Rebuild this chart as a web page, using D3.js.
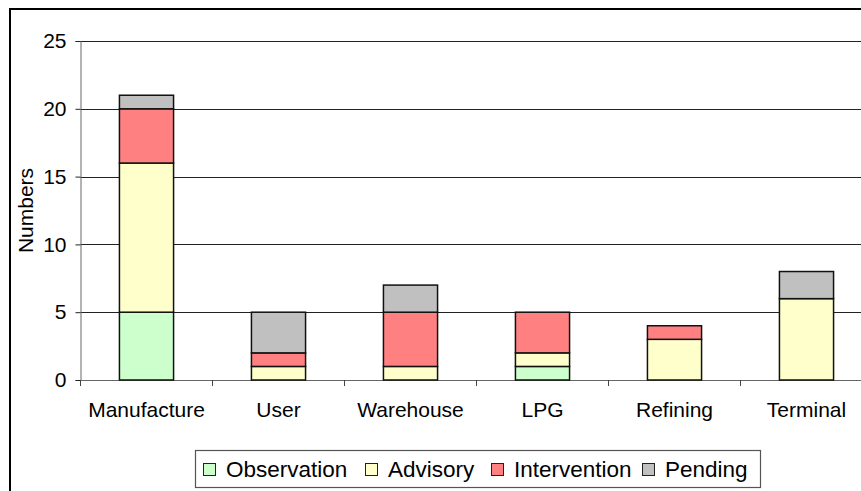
<!DOCTYPE html>
<html><head><meta charset="utf-8">
<script src="https://cdn.jsdelivr.net/npm/d3@7"></script>
<style>body{margin:0;background:#fff}svg{display:block;font-family:"Liberation Sans",Arial,sans-serif}</style>
</head><body>
<svg id="c" width="861" height="491"></svg>
<script>
const categories = ["Manufacture","User","Warehouse","LPG","Refining","Terminal"];
const seriesNames = ["Observation","Advisory","Intervention","Pending"];
const observation = [5,0,0,1,0,0];
const advisory = [11,1,1,1,3,6];
const intervention = [4,1,4,3,1,0];
const pending = [1,3,2,0,0,2];
const colors = ["#CCFFCC","#FFFFCC","#FF8080","#C0C0C0"];
const yTicks = [0,5,10,15,20,25];

const svg = d3.select("#c");
const L = 80.5, R = 872.5, T = 41, B = 380;
const x = d3.scaleBand().domain(categories).range([L,R]).padding(0);
const y = d3.scaleLinear().domain([0,25]).range([B,T]);

// outer border
svg.append("rect").attr("x",10).attr("y",9).attr("width",900).attr("height",500)
  .attr("fill","none").attr("stroke","#000").attr("stroke-width",2);

// gridlines
svg.append("g").selectAll("line").data(yTicks.filter(d=>d>0)).join("line")
  .attr("x1",L).attr("x2",R).attr("y1",d=>Math.round(y(d))+0.5).attr("y2",d=>Math.round(y(d))+0.5)
  .attr("stroke","#222").attr("stroke-width",1);

// y axis
const ya = svg.append("g").attr("transform",`translate(${L},0)`)
  .call(d3.axisLeft(y).tickValues(yTicks).tickSize(5).tickPadding(9));
ya.select(".domain").attr("stroke","#666");
ya.selectAll(".tick line").attr("stroke","#222");
ya.selectAll("text").attr("font-size",21).attr("fill","#000").attr("font-family","Liberation Sans, Arial, sans-serif");

// x axis
const xa = svg.append("g").attr("transform",`translate(0,${B})`)
  .call(d3.axisBottom(x).tickSize(0).tickPadding(22));
xa.select(".domain").attr("stroke","#666");
xa.selectAll("text").attr("font-size",21).attr("fill","#000").attr("font-family","Liberation Sans, Arial, sans-serif");
// category separator ticks
svg.append("g").selectAll("line").data(d3.range(categories.length+1)).join("line")
  .attr("x1",i=>L+i*x.step()).attr("x2",i=>L+i*x.step())
  .attr("y1",B).attr("y2",B+6).attr("stroke","#444");

// stacked bars
const rows = categories.map((c,i)=>({cat:c, Observation:observation[i], Advisory:advisory[i], Intervention:intervention[i], Pending:pending[i]}));
const stack = d3.stack().keys(seriesNames)(rows);
const bw = x.bandwidth()*0.41;
stack.forEach((s,si)=>{
  svg.append("g").selectAll("rect").data(s.filter(d=>d[1]-d[0]>0)).join("rect")
    .attr("x",d=>x(d.data.cat)+x.bandwidth()/2-bw/2)
    .attr("width",bw)
    .attr("y",d=>y(d[1]))
    .attr("height",d=>y(d[0])-y(d[1]))
    .attr("fill",colors[si]).attr("stroke","#111").attr("stroke-width",1.5);
});

// y label
svg.append("text").attr("transform",`translate(33,${(T+B)/2}) rotate(-90)`)
  .attr("text-anchor","middle").attr("font-size",21).text("Numbers");

// legend
const lg = svg.append("g");
lg.append("rect").attr("x",195.5).attr("y",450.5).attr("width",565).attr("height",37)
  .attr("fill","#fff").attr("stroke","#555").attr("stroke-width",1.2);
const swX = [203,365,491,642];
seriesNames.forEach((n,i)=>{
  lg.append("rect").attr("x",swX[i]+0.5).attr("y",463.5).attr("width",12).attr("height",12)
    .attr("fill",colors[i]).attr("stroke","#222").attr("stroke-width",1);
  lg.append("text").attr("x",swX[i]+23).attr("y",477).attr("font-size",22.5).text(n);
});
</script>
</body></html>
